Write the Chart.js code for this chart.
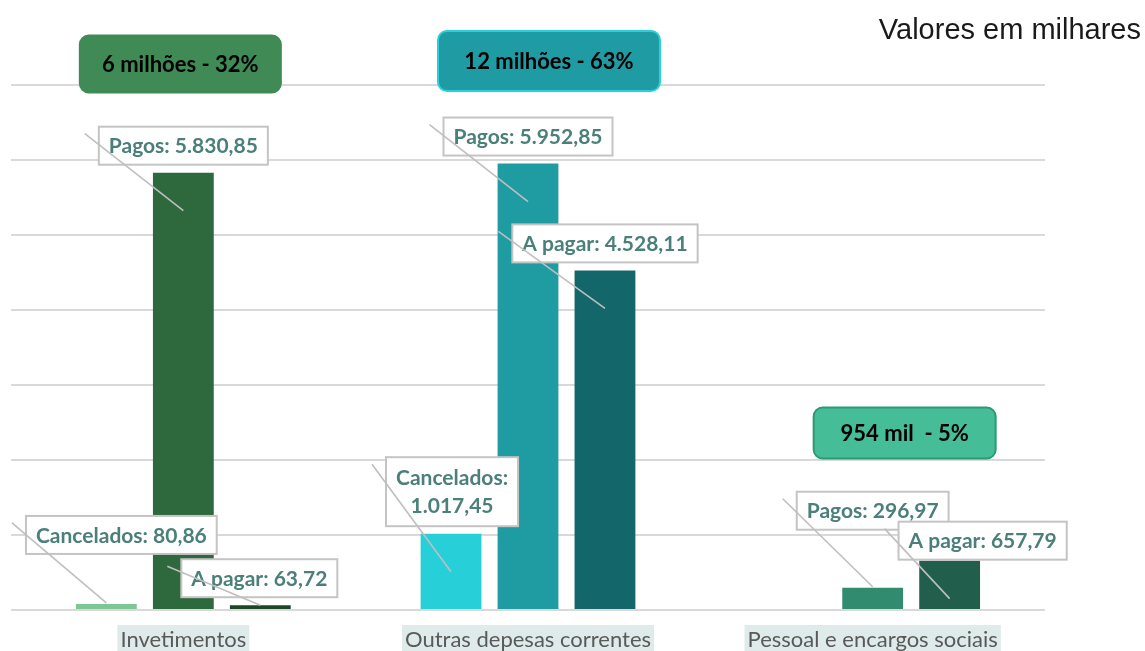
<!DOCTYPE html>
<html>
<head>
<meta charset="utf-8">
<script src="https://cdn.jsdelivr.net/npm/chart.js@4.4.0/dist/chart.umd.min.js"></script>
<style>
html, body { margin: 0; padding: 0; background: #fff; }
#wrap { width: 1145px; height: 651px; position: relative; }
</style>
</head>
<body>
<div id="wrap"><canvas id="chart"></canvas></div>
<script>
// data (valores em milhares)
const categories = ['Invetimentos', 'Outras depesas correntes', 'Pessoal e encargos sociais'];
const seriesNames = ['Cancelados', 'Pagos', 'A pagar'];
const cancelados = [80.86, 1017.45, null];
const pagos = [5830.85, 5952.85, 296.97];
const aPagar = [63.72, 4528.11, 657.79];
const totalLabels = ['6 milhões - 32%', '12 milhões - 63%', '954 mil  - 5%'];
const yMax = 7000;
const yStep = 1000;

// colours, one per category
const canceladosColors = ['#7ec693', '#27cfd9', '#318c6f'];
const pagosColors = ['#2e683d', '#1f9ba2', '#318c6f'];
const aPagarColors = ['#1d4628', '#13676b', '#215e4b'];

// label boxes: [dx, dy] of box centre from bar top, leader end offset, wrap to 2 lines
const labelLayout = [
    [[15, -69, -1, false], [1, -42, 38, true], null],
    [[0, -27, 38, false], [0, -27, 38, false], [0, -77, -1, false]],
    [[-1, -27, 0, false], [0, -27, 38, false], [33, -20, 38, false]]
];
// callouts: dx from category centre, centre y, width, height, fill, border
const callouts = [
    [-3, 64, 201, 57, '#3f8a55', '#3f8a55'],
    [21, 61, 222, 60, '#1f9ca3', '#2bd0da'],
    [32, 433, 182, 51, '#45bd97', '#2e9a74']
];

function fmt(v) {
    const parts = v.toFixed(2).split('.');
    return parts[0].replace(/\B(?=(\d{3})+(?!\d))/g, '.') + ',' + parts[1];
}

function roundRect(ctx, x, y, w, h, r) {
    ctx.beginPath();
    ctx.moveTo(x + r, y);
    ctx.arcTo(x + w, y, x + w, y + h, r);
    ctx.arcTo(x + w, y + h, x, y + h, r);
    ctx.arcTo(x, y + h, x, y, r);
    ctx.arcTo(x, y, x + w, y, r);
    ctx.closePath();
}

const labelsPlugin = {
    id: 'labelsPlugin',
    afterDatasetsDraw(chart) {
        const ctx = chart.ctx;
        const xs = chart.scales.x;
        ctx.save();

        // callouts with totals
        ctx.font = 'bold 22px Lato';
        ctx.textAlign = 'center';
        ctx.textBaseline = 'middle';
        callouts.forEach((c, i) => {
            const cx = xs.getPixelForValue(i) + c[0];
            roundRect(ctx, cx - c[2] / 2, c[1] - c[3] / 2, c[2], c[3], 9);
            ctx.fillStyle = c[4];
            ctx.fill();
            ctx.lineWidth = 2;
            ctx.strokeStyle = c[5];
            ctx.stroke();
            ctx.fillStyle = '#000';
            ctx.fillText(totalLabels[i], cx, c[1] + 1);
        });

        // data labels
        ctx.font = 'bold 21px Lato';
        chart.data.datasets.forEach((ds, di) => {
            const meta = chart.getDatasetMeta(di);
            ds.data.forEach((v, i) => {
                const lay = labelLayout[di][i];
                if (v == null || !lay) return;
                const bar = meta.data[i];
                const lines = lay[3] ? [seriesNames[di] + ':', fmt(v)] : [seriesNames[di] + ': ' + fmt(v)];
                const tw = Math.max(...lines.map(l => ctx.measureText(l).width));
                const w = tw + 20;
                const h = lines.length === 1 ? 38 : 69;
                const cx = bar.x + lay[0];
                const cy = bar.y + lay[1];
                const bx = cx - w / 2;
                const by = cy - h / 2;
                ctx.fillStyle = '#fff';
                ctx.fillRect(bx, by, w, h);
                ctx.lineWidth = 2;
                ctx.strokeStyle = '#c4c4c4';
                ctx.strokeRect(bx, by, w, h);
                ctx.fillStyle = '#4a7f7a';
                lines.forEach((l, k) => {
                    ctx.fillText(l, cx, cy + 1 + (k - (lines.length - 1) / 2) * 28);
                });
                // leader line
                ctx.beginPath();
                ctx.moveTo(bx - 14, by + 7);
                ctx.lineTo(bar.x, bar.y + lay[2]);
                ctx.lineWidth = 1.6;
                ctx.strokeStyle = '#bfbfbf';
                ctx.stroke();
            });
        });

        // unit note
        ctx.font = '29px "Liberation Sans"';
        ctx.textAlign = 'right';
        ctx.textBaseline = 'alphabetic';
        ctx.fillStyle = '#1a1a1a';
        ctx.fillText('Valores em milhares', 1141, 39);
        ctx.restore();
    }
};

new Chart(document.getElementById('chart'), {
    type: 'bar',
    data: {
        labels: categories,
        datasets: [
            { label: seriesNames[0], data: cancelados, backgroundColor: canceladosColors },
            { label: seriesNames[1], data: pagos, backgroundColor: pagosColors },
            { label: seriesNames[2], data: aPagar, backgroundColor: aPagarColors }
        ]
    },
    options: {
        responsive: true,
        maintainAspectRatio: false,
        animation: false,
        categoryPercentage: 0.67,
        barPercentage: 0.79,
        layout: { padding: { left: 11, right: 100, top: 85, bottom: 0 } },
        plugins: {
            legend: { display: false },
            tooltip: { enabled: false }
        },
        scales: {
            x: {
                grid: { display: false, drawTicks: false },
                border: { display: false },
                ticks: {
                    color: '#595959',
                    font: { family: 'Lato', size: 22 },
                    padding: 17,
                    showLabelBackdrop: true,
                    backdropColor: '#deebea',
                    backdropPadding: { top: 2, bottom: 2, left: 3, right: 3 }
                },
                afterFit(axis) { axis.height = 41; }
            },
            y: {
                min: 0,
                max: yMax,
                grid: { color: '#d9d9d9', lineWidth: 2, drawTicks: false },
                border: { display: false },
                ticks: { display: false, stepSize: yStep },
                afterFit(axis) { axis.width = 0; }
            }
        }
    },
    plugins: [labelsPlugin]
});
</script>
</body>
</html>
